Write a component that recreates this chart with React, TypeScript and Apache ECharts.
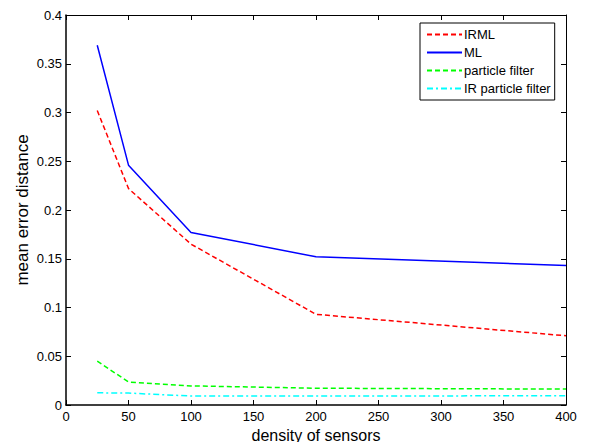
import React, { useEffect, useRef } from "react";
import * as echarts from "echarts";

const densities = [25, 50, 100, 200, 400];
const irml = [0.302, 0.222, 0.165, 0.093, 0.071];
const ml = [0.369, 0.246, 0.177, 0.152, 0.143];
const particleFilter = [0.045, 0.0236, 0.0196, 0.0172, 0.0163];
const irParticleFilter = [0.0125, 0.0122, 0.0092, 0.0093, 0.0094];

const seriesNames = ["IRML", "ML", "particle filter", "IR particle filter"];
const xTicks = [0, 50, 100, 150, 200, 250, 300, 350, 400];
const yTicks = [0, 0.05, 0.1, 0.15, 0.2, 0.25, 0.3, 0.35, 0.4];

const FONT = "Liberation Sans, Arial, sans-serif";

function pairs(vals: number[]) {
  return densities.map((d, i) => [d, vals[i]]);
}

export default function App() {
  const ref = useRef<HTMLDivElement>(null);
  useEffect(() => {
    if (!ref.current) return;
    const chart = echarts.init(ref.current, undefined, { renderer: "svg" });
    const tickStyle = { show: true, inside: true, length: 5, lineStyle: { color: "#000", width: 1 } };
    const lineW = 1.5;
    chart.setOption({
      animation: false,
      backgroundColor: "#fff",
      grid: { left: 66, right: 24, top: 15, bottom: 37, show: false, containLabel: false, outerBoundsMode: "none" },
      legend: {
        orient: "vertical",
        left: 420,
        top: 23,
        width: 130,
        padding: [5, 4, 5, 6],
        itemGap: 5,
        itemWidth: 35,
        itemHeight: 12,
        borderColor: "#000",
        borderWidth: 1,
        borderRadius: 0,
        backgroundColor: "#fff",
        itemStyle: { opacity: 0 },
        textStyle: { fontFamily: FONT, fontSize: 13, color: "#000", padding: [0, 0, 0, -3] },
        data: seriesNames,
      },
      xAxis: [
        {
          type: "value",
          min: 0,
          max: 400,
          interval: 50,
          axisLine: { show: true, onZero: false, lineStyle: { color: "#000", width: 1.5 } },
          axisTick: tickStyle,
          splitLine: { show: false },
          axisLabel: {
            color: "#000",
            fontFamily: FONT,
            fontSize: 13,
            margin: 5,
            formatter: (v: number) => (xTicks.includes(v) ? String(v) : ""),
          },
          name: "density of sensors",
          nameLocation: "middle",
          nameGap: 22,
          nameMoveOverlap: false,
          nameTextStyle: { fontFamily: FONT, fontSize: 16, color: "#000" },
        },
        {
          type: "value",
          position: "top",
          min: 0,
          max: 400,
          interval: 50,
          axisLine: { show: true, onZero: false, lineStyle: { color: "#000", width: 1 } },
          axisTick: tickStyle,
          axisLabel: { show: false },
          splitLine: { show: false },
        },
      ],
      yAxis: [
        {
          type: "value",
          min: 0,
          max: 0.4,
          interval: 0.05,
          axisLine: { show: true, onZero: false, lineStyle: { color: "#000", width: 1.5 } },
          axisTick: tickStyle,
          splitLine: { show: false },
          axisLabel: {
            color: "#000",
            fontFamily: FONT,
            fontSize: 13,
            margin: 4,
            formatter: (v: number) => {
              const t = yTicks.find((y) => Math.abs(y - v) < 1e-9);
              return t === undefined ? "" : String(Number(t.toFixed(2)));
            },
          },
          name: "mean error distance",
          nameLocation: "middle",
          nameGap: 35,
          nameMoveOverlap: false,
          nameTextStyle: { fontFamily: FONT, fontSize: 17, color: "#000" },
        },
        {
          type: "value",
          position: "right",
          min: 0,
          max: 0.4,
          interval: 0.05,
          axisLine: { show: true, onZero: false, lineStyle: { color: "#000", width: 1 } },
          axisTick: tickStyle,
          axisLabel: { show: false },
          splitLine: { show: false },
        },
      ],
      series: [
        {
          name: seriesNames[0],
          type: "line",
          data: pairs(irml),
          symbol: "none",
          color: "#ff0000",
          lineStyle: { color: "#ff0000", width: lineW, type: [5, 3] },
        },
        {
          name: seriesNames[1],
          type: "line",
          data: pairs(ml),
          symbol: "none",
          color: "#0000ff",
          lineStyle: { color: "#0000ff", width: lineW, type: "solid" },
        },
        {
          name: seriesNames[2],
          type: "line",
          data: pairs(particleFilter),
          symbol: "none",
          color: "#00ff00",
          lineStyle: { color: "#00ff00", width: lineW, type: [5, 3] },
        },
        {
          name: seriesNames[3],
          type: "line",
          data: pairs(irParticleFilter),
          symbol: "none",
          color: "#00ffff",
          lineStyle: { color: "#00ffff", width: lineW, type: [6, 3, 2, 3] },
        },
      ],
    });
    return () => chart.dispose();
  }, []);
  return <div ref={ref} style={{ width: 590, height: 442, position: "absolute", left: 0, top: 0 }} />;
}
